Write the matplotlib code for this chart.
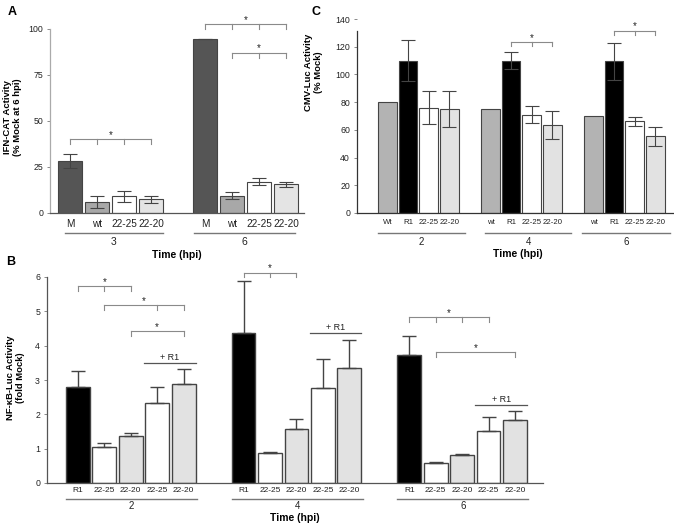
import numpy as np
import matplotlib
matplotlib.use('Agg')
import matplotlib.pyplot as plt

plt.rcParams['font.family'] = ['Liberation Sans', 'DejaVu Sans']

# ---- panel A: IFN-CAT ----
a_times = ['3', '6']
a_cats = ['M', 'wt', '22-25', '22-20']
a_mean = [[28.5, 6.0, 9.2, 7.5], [94.7, 9.4, 17.0, 15.6]]
a_err = [[3.8, 3.5, 3.0, 2.0], [0.0, 1.8, 2.0, 1.4]]
a_colors = ['#555555', '#a8a8a8', 'white', '#e4e4e4']
a_yticks = [0, 25, 50, 75, 100]

# ---- panel C: CMV-Luc ----
c_times = ['2', '4', '6']
c_cats = [['Wt', 'R1', '22-25', '22-20'], ['wt', 'R1', '22-25', '22-20'], ['wt', 'R1', '22-25', '22-20']]
c_mean = [[80.3, 109.9, 76.0, 75.3], [75.3, 110.0, 71.0, 63.3], [70.0, 109.4, 66.1, 55.3]]
c_err = [[0, 15.0, 12.0, 13.0], [0, 6.0, 6.0, 10.0], [0, 13.5, 3.5, 7.0]]
c_colors = ['#b3b3b3', 'black', 'white', '#e2e2e2']
c_yticks = list(range(0, 141, 20))

# ---- panel B: NF-kB-Luc ----
b_times = ['2', '4', '6']
b_cats = ['R1', '22-25', '22-20', '22-25', '22-20']
b_mean = [[2.80, 1.06, 1.38, 2.32, 2.88], [4.36, 0.86, 1.56, 2.78, 3.34], [3.72, 0.59, 0.82, 1.51, 1.83]]
b_top = [[3.27, 1.17, 1.47, 2.79, 3.32], [5.88, 0.89, 1.86, 3.61, 4.16], [4.27, 0.61, 0.85, 1.92, 2.09]]
b_colors = ['black', 'white', '#e2e2e2', 'white', '#e2e2e2']
b_yticks = [0, 1, 2, 3, 4, 5, 6]

# brackets: (group, bar indices with ticks, height, tick drop)
a_brackets = [(0, [0, 1, 2, 3], 40.0, 2.7), (1, [0, 1, 2, 3], 102.7, 2.9), (1, [1, 2, 3], 87.1, 2.9)]
c_brackets = [(1, [1, 2, 3], 123.1, 2.6), (2, [1, 2, 3], 131.5, 2.9)]
b_brackets = [(0, [0, 1, 2], 5.73, 0.13), (0, [1, 3, 4], 5.17, 0.13), (0, [2, 4], 4.42, 0.13),
              (1, [0, 1, 2], 6.13, 0.13), (2, [0, 1, 2, 3], 4.83, 0.13), (2, [1, 4], 3.81, 0.13)]
b_plusr1 = [3.49, 4.36, 2.27]

fig = plt.figure(figsize=(6.74, 5.27), dpi=100)
W, H = 674.0, 527.0


def make_ax(x0, x1, ytop, ybot):
    return fig.add_axes([x0 / W, 1 - ybot / H, (x1 - x0) / W, (ybot - ytop) / H])


def style(ax, yticks, ylim):
    for s in ['top', 'right']:
        ax.spines[s].set_visible(False)
    ax.spines['left'].set_color('#555555')
    ax.spines['bottom'].set_color('#555555')
    ax.spines['left'].set_linewidth(0.9)
    ax.spines['bottom'].set_linewidth(0.9)
    ax.set_ylim(*ylim)
    ax.set_yticks(yticks)
    ax.tick_params(axis='y', labelsize=6.3, length=2, width=0.6, color='#777777', pad=3, labelcolor='#222222')


def bracket(ax, xs, y, drop, color='#8a8a8a', sdy=None):
    ax.plot([xs[0], xs[-1]], [y, y], color=color, lw=0.8, clip_on=False)
    for x in xs:
        ax.plot([x, x], [y, y - drop], color=color, lw=0.8, clip_on=False)
    ax.text((xs[0] + xs[-1]) / 2, y + (sdy if sdy else drop * 1.2), '*', ha='center', va='center',
            fontsize=7, color='#222222', clip_on=False)


def groups(ax, spans, labels, yline, ylab, fs):
    tr = ax.get_xaxis_transform()
    for (x0, x1), lab in zip(spans, labels):
        ax.plot([x0, x1], [yline, yline], color='#777777', lw=1.0, transform=tr, clip_on=False)
        ax.text((x0 + x1) / 2, ylab, lab, transform=tr, ha='center', va='center', fontsize=fs, color='#222222')


# ================= A =================
axA = make_ax(50, 304, 29, 213)
style(axA, a_yticks, (0, 100))
axA.spines['left'].set_color('#aaaaaa')
axA.spines['left'].set_bounds(0, 100)
a_pos = []
for g in range(len(a_times)):
    pos = [g * 5 + i for i in range(4)]
    a_pos.append(pos)
    axA.bar(pos, a_mean[g], width=0.9, color=a_colors, edgecolor='#444444', linewidth=0.8, zorder=2)
    axA.errorbar(pos, a_mean[g], yerr=a_err[g], fmt='none', ecolor='#444444', elinewidth=0.8,
                 capsize=5, capthick=0.8, zorder=3)
axA.set_xlim(-0.74, 8.67)
axA.set_xticks(sum(a_pos, []))
axA.set_xticklabels(a_cats * 2, fontsize=7.2)
axA.tick_params(axis='x', length=0, pad=4, labelcolor='#222222')
groups(axA, [(-0.2, 3.45), (4.6, 8.35)], a_times, -0.109, -0.158, 7.5)
axA.set_xlabel('Time (hpi)', fontsize=7.5, fontweight='bold')
axA.xaxis.set_label_coords(0.5, -0.20)
axA.set_ylabel('IFN-CAT Activity\n(% Mock at 6 hpi)', fontsize=6.8, fontweight='bold', linespacing=1.1)
axA.yaxis.set_label_coords(-0.11, 0.52)
for g, idx, y, d in a_brackets:
    bracket(axA, [a_pos[g][i] for i in idx], y, d, sdy=2.4)

# ================= C =================
axC = make_ax(357, 673, 19, 213)
style(axC, c_yticks, (0, 140))
axC.spines['left'].set_bounds(0, 131)
axC.spines['left'].set_color('#333333')
axC.spines['bottom'].set_color('#333333')
c_pos = []
for g in range(len(c_times)):
    pos = [g * 5 + i for i in range(4)]
    c_pos.append(pos)
    axC.bar(pos, c_mean[g], width=0.9, color=c_colors, edgecolor='#444444', linewidth=0.8, zorder=2)
    yerr = np.array(c_err[g])
    m = yerr > 0
    axC.errorbar(np.array(pos)[m], np.array(c_mean[g])[m], yerr=yerr[m], fmt='none', ecolor='#444444',
                 elinewidth=0.8, capsize=5, capthick=0.8, zorder=3)
axC.set_xlim(-1.48, 13.86)
axC.set_xticks(sum(c_pos, []))
axC.set_xticklabels(sum(c_cats, []), fontsize=5.6)
axC.tick_params(axis='x', length=0, pad=4, labelcolor='#222222')
groups(axC, [(-0.45, 3.75), (4.75, 8.9), (9.45, 13.7)], c_times, -0.103, -0.149, 7)
axC.set_xlabel('Time (hpi)', fontsize=7.5, fontweight='bold')
axC.xaxis.set_label_coords(0.51, -0.186)
axC.set_ylabel('CMV-Luc Activity\n(% Mock)', fontsize=6.8, fontweight='bold', linespacing=1.1)
axC.yaxis.set_label_coords(-0.108, 0.727)
for g, idx, y, d in c_brackets:
    bracket(axC, [c_pos[g][i] for i in idx], y, d, sdy=3.2)

# ================= B =================
axB = make_ax(47, 543, 277, 483)
style(axB, b_yticks, (0, 6))
b_pos = []
for g in range(len(b_times)):
    pos = [g * 6.27 + i for i in range(5)]
    b_pos.append(pos)
    axB.bar(pos, b_mean[g], width=0.9, color=b_colors, edgecolor='#444444', linewidth=1.0, zorder=2)
    up = np.array(b_top[g]) - np.array(b_mean[g])
    axB.errorbar(pos, b_mean[g], yerr=[np.zeros(5), up], fmt='none', ecolor='#444444', elinewidth=1.0,
                 capsize=5, capthick=1.0, zorder=3)
axB.set_xlim(-1.17, 17.6)
axB.set_xticks(sum(b_pos, []))
axB.set_xticklabels(b_cats * 3, fontsize=6)
axB.tick_params(axis='x', length=0, pad=3, labelcolor='#222222')
groups(axB, [(p[0] - 0.45, p[-1] + 0.5) for p in b_pos], b_times, -0.078, -0.114, 7)
axB.set_xlabel('Time (hpi)', fontsize=7.5, fontweight='bold')
axB.xaxis.set_label_coords(0.5, -0.146)
axB.set_ylabel('NF-\u03baB-Luc Activity\n(fold Mock)', fontsize=6.8, fontweight='bold', linespacing=1.1)
axB.yaxis.set_label_coords(-0.044, 0.51)
for g, idx, y, d in b_brackets:
    bracket(axB, [b_pos[g][i] for i in idx], y, d, sdy=0.12)
for g, y in enumerate(b_plusr1):
    x0, x1 = b_pos[g][3] - 0.5, b_pos[g][4] + 0.45
    axB.plot([x0, x1], [y, y], color='#555555', lw=0.9, clip_on=False)
    axB.text((x0 + x1) / 2, y + 0.17, '+ R1', ha='center', va='center', fontsize=6.5, color='#222222')

# panel letters
fig.text(8 / W, 1 - 12 / H, 'A', fontsize=9, fontweight='bold', va='center')
fig.text(312 / W, 1 - 12 / H, 'C', fontsize=9, fontweight='bold', va='center')
fig.text(6 / W, 1 - 262 / H, 'B', fontsize=9, fontweight='bold', va='center')

fig.savefig('out.png', dpi=100)
